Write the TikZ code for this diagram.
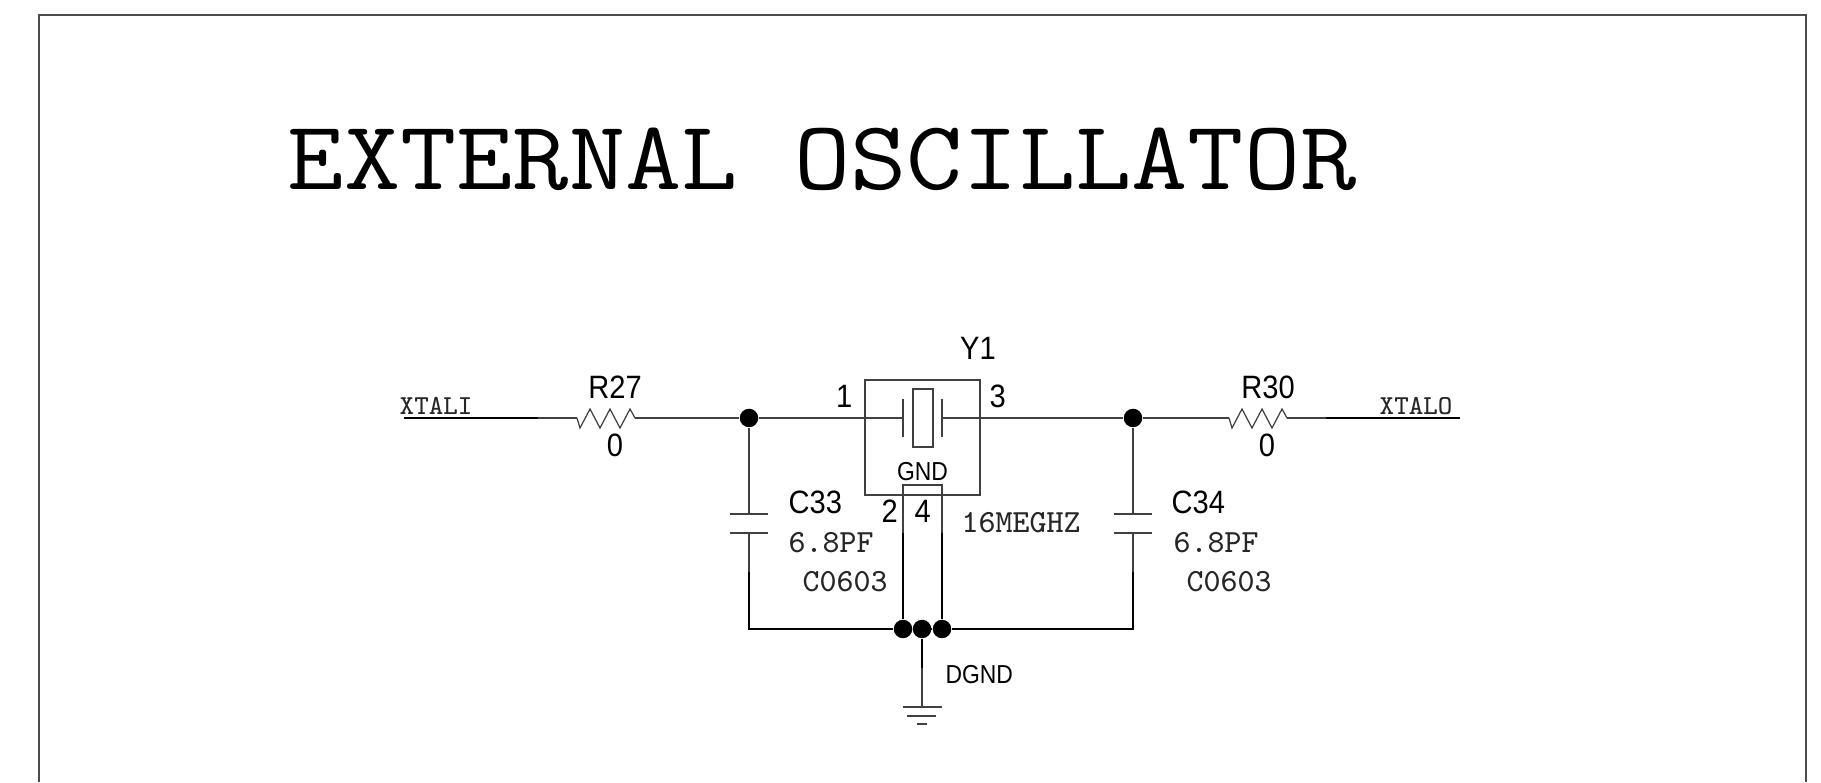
\documentclass[tikz,border=0pt]{standalone}
\usepackage{fontspec}
\setmainfont{Liberation Sans}
\usepackage{tikz}
\tikzset{
	wire/.style={line width=0.35pt,black!75},
	bus/.style={line width=0.6pt,black},
	part/.style={rectangle,draw,line width=0.35pt,black!75,inner sep=0},
	junction/.style={circle,fill=black,inner sep=0,minimum size=0.185cm},
	refname/.style={inner sep=0,font=\fontsize{9.2}{11}\selectfont,xscale=0.9,transform shape},
	smallname/.style={inner sep=0,font=\fontsize{7.4}{9}\selectfont,xscale=0.88,transform shape},
	valname/.style={inner sep=0,font=\fontsize{9.2}{11}\selectfont\ttfamily,black!85},
	netname/.style={inner sep=0,font=\fontsize{7.8}{9}\selectfont\ttfamily,black!85},
	titlename/.style={inner sep=0,font=\fontsize{28}{30}\selectfont\ttfamily,xscale=1.11,transform shape}
}

\begin{document}
\begin{tikzpicture}
		\useasboundingbox (0,0) rectangle (18.21,7.82);
%		\draw[help lines] (0,0) grid (18,8);
		\path (0.39,0) coordinate (frame_lb);
		\path (0.39,7.67) coordinate (frame_lt);
		\path (18.06,7.67) coordinate (frame_rt);
		\path (18.06,0) coordinate (frame_rb);
		\path (2.87,5.92) node(title) [titlename,anchor=base west] {EXTERNAL OSCILLATOR};

		\path (4.04,3.64) coordinate (xtali_l);
		\path (5.38,3.64) coordinate (xtali_r);
		\path (5.77,3.64) coordinate (r27_l);
		\path (6.35,3.64) coordinate (r27_r);
		\path (7.49,3.64) node(j_left) [junction] {};
		\path (9.03,3.64) coordinate (plate_l);
		\path (9.42,3.64) coordinate (plate_r);
		\path (11.33,3.64) node(j_right) [junction] {};
		\path (12.29,3.64) coordinate (r30_l);
		\path (12.87,3.64) coordinate (r30_r);
		\path (13.26,3.64) coordinate (xtalo_l);
		\path (14.60,3.64) coordinate (xtalo_r);

		\path (9.225,3.445) node(y1) [part,minimum width=1.15cm,minimum height=1.15cm] {};
		\path (9.23,3.64) node(quartz) [part,minimum width=0.20cm,minimum height=0.58cm] {};
		\path (9.03,3.83) coordinate (plate_lt);
		\path (9.03,3.45) coordinate (plate_lb);
		\path (9.42,3.83) coordinate (plate_rt);
		\path (9.42,3.45) coordinate (plate_rb);

		\path (9.03,2.97) coordinate (gnd_lt);
		\path (9.42,2.97) coordinate (gnd_rt);
		\path (9.03,2.49) coordinate (gnd_lm);
		\path (9.42,2.49) coordinate (gnd_rm);
		\path (9.03,1.53) node(j_pin2) [junction] {};
		\path (9.22,1.53) node(j_gnd) [junction] {};
		\path (9.42,1.53) node(j_pin4) [junction] {};

		\path (7.49,2.68) coordinate (c33_t);
		\path (7.49,2.49) coordinate (c33_b);
		\path (7.49,2.10) coordinate (c33_m);
		\path (7.49,1.53) coordinate (c33_end);
		\path (11.33,2.68) coordinate (c34_t);
		\path (11.33,2.49) coordinate (c34_b);
		\path (11.33,2.10) coordinate (c34_m);
		\path (11.33,1.53) coordinate (c34_end);

		\path (9.22,1.14) coordinate (dgnd_m);
		\path (9.22,0.75) coordinate (dgnd_b);

		\draw[line width=0.4pt,black!70] (frame_lb) -- (frame_lt) -- (frame_rt) -- (frame_rb);

		\draw[bus] (xtali_l) -- (xtali_r);
		\draw[wire] (xtali_r) -- (r27_l);
		\draw[wire] (r27_l) -- ++(0.03,-0.10) -- ++(0.10,0.19) -- ++(0.10,-0.19) -- ++(0.10,0.19) -- ++(0.10,-0.19) -- ++(0.10,0.19) -- (r27_r);
		\draw[wire] (r27_r) -- (j_left);
		\draw[wire] (j_left) -- (plate_l);
		\draw[wire] (plate_lt) -- (plate_lb);
		\draw[wire] (plate_rt) -- (plate_rb);
		\draw[wire] (plate_r) -- (j_right);
		\draw[wire] (j_right) -- (r30_l);
		\draw[wire] (r30_l) -- ++(0.03,-0.10) -- ++(0.10,0.19) -- ++(0.10,-0.19) -- ++(0.10,0.19) -- ++(0.10,-0.19) -- ++(0.10,0.19) -- (r30_r);
		\draw[wire] (r30_r) -- (xtalo_l);
		\draw[bus] (xtalo_l) -- (xtalo_r);

		\draw[wire] (j_left) -- (c33_t);
		\draw[wire] (c33_t) +(-0.19,0) -- +(0.19,0);
		\draw[wire] (c33_b) +(-0.19,0) -- +(0.19,0);
		\draw[wire] (c33_b) -- (c33_m);
		\draw[bus] (c33_m) -- (c33_end) -- (j_pin2);
		\draw[wire] (j_right) -- (c34_t);
		\draw[wire] (c34_t) +(-0.19,0) -- +(0.19,0);
		\draw[wire] (c34_b) +(-0.19,0) -- +(0.19,0);
		\draw[wire] (c34_b) -- (c34_m);
		\draw[bus] (c34_m) -- (c34_end) -- (j_pin4);

		\draw[wire] (gnd_lm) -- (gnd_lt) -- (gnd_rt) -- (gnd_rm);
		\draw[bus] (gnd_lm) -- (j_pin2);
		\draw[bus] (gnd_rm) -- (j_pin4);
		\draw[bus] (j_pin2) -- (j_pin4);
		\draw[bus] (j_gnd) -- (dgnd_m);
		\draw[wire] (dgnd_m) -- (dgnd_b);
		\draw[wire] (dgnd_b) +(-0.19,0) -- +(0.20,0);
		\draw[wire] (dgnd_b) +(-0.15,-0.09) -- +(0.14,-0.09);
		\draw[wire] (dgnd_b) +(-0.05,-0.17) -- +(0.05,-0.17);

		\path (3.99,3.67) node(xtali) [netname,anchor=base west] {XTALI};
		\path (13.79,3.67) node(xtalo) [netname,anchor=base west] {XTALO};
		\path (6.15,3.83) node(r27) [refname,anchor=base] {R27};
		\path (6.15,3.25) node(r27_val) [refname,anchor=base] {0};
		\path (12.68,3.83) node(r30) [refname,anchor=base] {R30};
		\path (12.67,3.25) node(r30_val) [refname,anchor=base] {0};
		\path (9.78,4.22) node(y1_name) [refname,anchor=base] {Y1};
		\path (8.53,3.74) node(pin1) [refname,anchor=base east] {1};
		\path (9.89,3.74) node(pin3) [refname,anchor=base west] {3};
		\path (8.81,2.59) node(pin2) [refname,anchor=base west] {2};
		\path (9.14,2.59) node(pin4) [refname,anchor=base west] {4};
		\path (9.225,3.01) node(gnd) [smallname,anchor=base] {GND};
		\path (9.61,2.49) node(y1_val) [valname,anchor=base west] {16MEGHZ};
		\path (7.88,2.68) node(c33) [refname,anchor=base west] {C33};
		\path (7.88,2.29) node(c33_val) [valname,anchor=base west] {6.8PF};
		\path (8.02,1.90) node(c33_pkg) [valname,anchor=base west] {C0603};
		\path (11.71,2.68) node(c34) [refname,anchor=base west] {C34};
		\path (11.73,2.29) node(c34_val) [valname,anchor=base west] {6.8PF};
		\path (11.86,1.90) node(c34_pkg) [valname,anchor=base west] {C0603};
		\path (9.45,0.98) node(dgnd) [smallname,anchor=base west] {DGND};
	\end{tikzpicture}
\end{document}
